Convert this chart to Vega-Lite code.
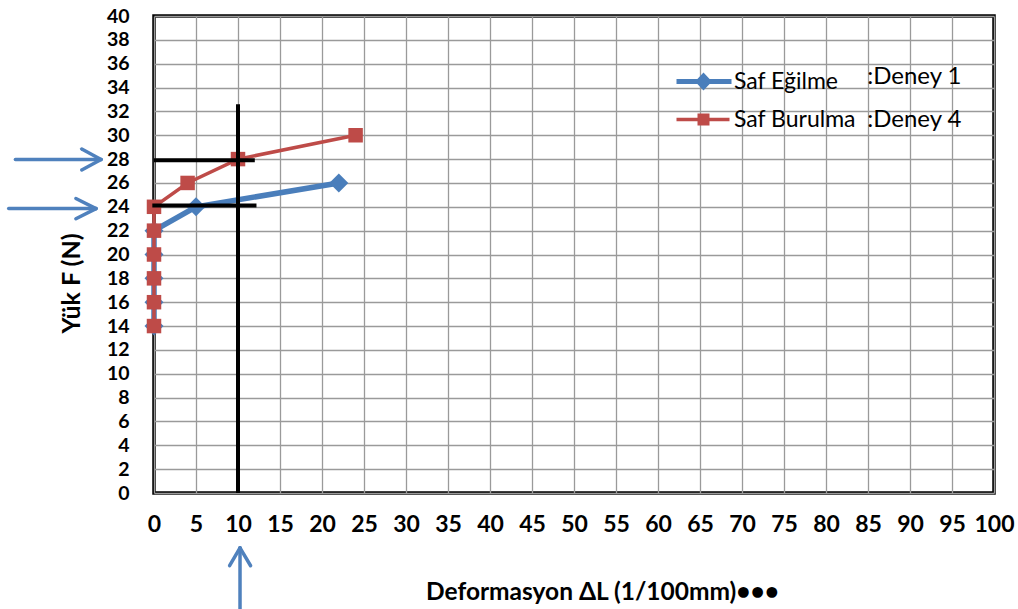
{
  "$schema": "https://vega.github.io/schema/vega-lite/v6.json",
  "autosize": "none",
  "width": 840,
  "height": 477,
  "padding": {"left": 154, "top": 16, "right": 24, "bottom": 116},
  "background": "white",
  "config": {
    "view": {"stroke": "#000000", "strokeWidth": 3.5},
    "font": "Lato",
    "axis": {
      "labelFont": "Lato", "labelFontWeight": "bold", "labelFontSize": 23, "labelColor": "#000000",
      "labelOverlap": false, "labelFlush": false,
      "titleFont": "Lato", "titleFontWeight": "bold", "titleColor": "#000000",
      "domain": false, "ticks": false, "gridColor": "#9a9a9a", "gridWidth": 1.3, "gridOpacity": 1
    },
    "axisY": {"labelOverlap": false, "labelSeparation": 0, "labelFontSize": 19.5}
  },
  "datasets": {
    "series": [
      {"seri": "Saf Eğilme", "dL": 0, "F": 14},
      {"seri": "Saf Eğilme", "dL": 0, "F": 16},
      {"seri": "Saf Eğilme", "dL": 0, "F": 18},
      {"seri": "Saf Eğilme", "dL": 0, "F": 20},
      {"seri": "Saf Eğilme", "dL": 0, "F": 22},
      {"seri": "Saf Eğilme", "dL": 5, "F": 24},
      {"seri": "Saf Eğilme", "dL": 22, "F": 26},
      {"seri": "Saf Burulma", "dL": 0, "F": 14},
      {"seri": "Saf Burulma", "dL": 0, "F": 16},
      {"seri": "Saf Burulma", "dL": 0, "F": 18},
      {"seri": "Saf Burulma", "dL": 0, "F": 20},
      {"seri": "Saf Burulma", "dL": 0, "F": 22},
      {"seri": "Saf Burulma", "dL": 0, "F": 24},
      {"seri": "Saf Burulma", "dL": 4, "F": 26},
      {"seri": "Saf Burulma", "dL": 10, "F": 28},
      {"seri": "Saf Burulma", "dL": 24, "F": 30}
    ],
    "guides": [
      {"dL": 10, "F": 0, "dL2": 10, "F2": 32.6},
      {"dL": 0, "F": 27.9, "dL2": 12, "F2": 27.9},
      {"dL": -0.2, "F": 24.1, "dL2": 12.2, "F2": 24.1}
    ],
    "arrows": [
      {"dL": -16.5, "F": 27.97, "dL2": -6.3, "F2": 27.97},
      {"dL": -8.6, "F": 28.85, "dL2": -6.3, "F2": 27.97},
      {"dL": -8.6, "F": 27.09, "dL2": -6.3, "F2": 27.97},
      {"dL": -17.3, "F": 23.85, "dL2": -6.9, "F2": 23.85},
      {"dL": -9.3, "F": 24.7, "dL2": -6.9, "F2": 23.85},
      {"dL": -9.3, "F": 23.0, "dL2": -6.9, "F2": 23.85},
      {"dL": 10.24, "F": -9.8, "dL2": 10.24, "F2": -4.6},
      {"dL": 9.0, "F": -6.1, "dL2": 10.24, "F2": -4.6},
      {"dL": 11.5, "F": -6.1, "dL2": 10.24, "F2": -4.6}
    ],
    "notes": [
      {"t": ":Deney 1", "dL": 84.9, "F": 34.9},
      {"t": ":Deney 4", "dL": 84.9, "F": 31.3}
    ]
  },
  "encoding": {
    "x": {"field": "dL", "type": "quantitative", "scale": {"domain": [0, 100], "nice": false, "zero": false},
      "axis": {"values": [0,5,10,15,20,25,30,35,40,45,50,55,60,65,70,75,80,85,90,95,100], "labelPadding": 20,
        "labelOverlap": false, "labelFlush": false,
        "title": "Deformasyon ΔL (1/100mm)•••", "titleFontSize": 24.5, "titleX": 448, "titleY": 99, "titleBaseline": "middle", "titleAnchor": "middle"}},
    "y": {"field": "F", "type": "quantitative", "scale": {"domain": [0, 40], "nice": false, "zero": false},
      "axis": {"values": [0,2,4,6,8,10,12,14,16,18,20,22,24,26,28,30,32,34,36,38,40], "labelPadding": 25,
        "labelFontSize": 19.5, "labelOverlap": false, "labelFlush": false, "labelSeparation": 0,
        "title": "Yük F (N)", "titleFontSize": 25, "titleX": -83, "titleY": 267, "titleBaseline": "middle", "titleAngle": -90}}
  },
  "layer": [
    {
      "data": {"name": "series"},
      "transform": [{"filter": "datum.seri === 'Saf Eğilme'"}],
      "mark": {"type": "line", "color": "#4a7ebb", "strokeWidth": 5.5},
      "encoding": {
        "order": {"field": "F", "type": "quantitative"}
      }
    },
    {
      "data": {"name": "series"},
      "transform": [{"filter": "datum.seri === 'Saf Eğilme'"}],
      "mark": {"type": "point", "shape": "diamond", "filled": true, "color": "#4a7ebb", "size": 360, "opacity": 1},
      "encoding": {}
    },
    {
      "data": {"name": "series"},
      "transform": [{"filter": "datum.seri === 'Saf Burulma'"}],
      "mark": {"type": "line", "color": "#be4b48", "strokeWidth": 3.5},
      "encoding": {
        "order": {"field": "F", "type": "quantitative"}
      }
    },
    {
      "data": {"name": "series"},
      "transform": [{"filter": "datum.seri === 'Saf Burulma'"}],
      "mark": {"type": "point", "shape": "square", "filled": true, "color": "#be4b48", "size": 210, "opacity": 1},
      "encoding": {}
    },
    {
      "data": {"name": "series"},
      "transform": [{"filter": "datum.F < 0"}],
      "mark": {"type": "point", "filled": true, "opacity": 1},
      "encoding": {
        "shape": {"field": "seri", "type": "nominal",
          "scale": {"domain": ["Saf Eğilme", "Saf Burulma"],
            "range": [
              "M-2.7,-0.25L-0.61,-0.25L0,-0.9L0.61,-0.25L2.8,-0.25L2.8,0.25L0.61,0.25L0,0.9L-0.61,0.25L-2.7,0.25Z",
              "M-2.7,-0.18L-0.6,-0.18L-0.6,-0.6L0.6,-0.6L0.6,-0.18L2.6,-0.18L2.6,0.18L0.6,0.18L0.6,0.6L-0.6,0.6L-0.6,0.18L-2.7,0.18Z"
            ]},
          "legend": {"orient": "none", "legendX": 538, "legendY": 54, "title": null, "padding": 0,
            "symbolSize": 400, "symbolStrokeWidth": 0, "labelFont": "Lato", "labelFontSize": 23, "labelColor": "#000000",
            "labelOffset": 19, "rowPadding": 14}},
        "color": {"field": "seri", "type": "nominal",
          "scale": {"domain": ["Saf Eğilme", "Saf Burulma"], "range": ["#4a7ebb", "#be4b48"]}}
      }
    },
    {
      "data": {"name": "guides"},
      "mark": {"type": "rule", "color": "#000000", "strokeWidth": 4},
      "encoding": {
        "x2": {"field": "dL2"},
        "y2": {"field": "F2"}
      }
    },
    {
      "data": {"name": "arrows"},
      "mark": {"type": "rule", "color": "#4f81bd", "strokeWidth": 3.5, "strokeCap": "round", "clip": false},
      "encoding": {
        "x2": {"field": "dL2"},
        "y2": {"field": "F2"}
      }
    },
    {
      "data": {"name": "notes"},
      "mark": {"type": "text", "font": "Lato", "fontSize": 24, "color": "#000000", "align": "left", "baseline": "middle"},
      "encoding": {
        "text": {"field": "t"}
      }
    }
  ]
}
